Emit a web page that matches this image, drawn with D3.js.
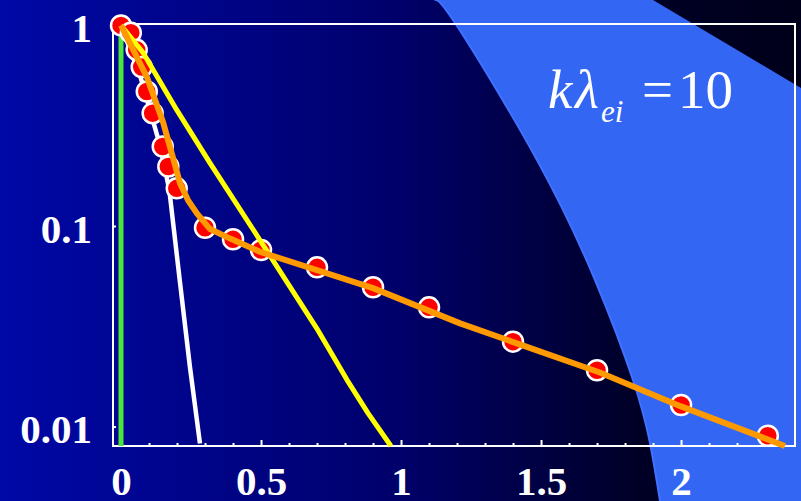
<!DOCTYPE html>
<html lang="en">
<head>
    <meta charset="UTF-8">
    <title>Decay curves, k lambda_ei = 10</title>
    <script src="https://d3js.org/d3.v7.min.js"></script>
    <style>
        html, body { margin: 0; padding: 0; background: #000020; }
        svg { display: block; }
        .tick text { font-family: "Liberation Serif", "Times New Roman", serif; font-weight: bold; fill: #fff; }
        .note { font-family: "Liberation Serif", "Times New Roman", serif; fill: #fff; }
        .note .it { font-style: italic; }
    </style>
</head>
<body>
    <div id="chart"></div>

    <script>
        // measured points (red circles)
        const markerX = [0, 0.035, 0.056, 0.074, 0.092, 0.113, 0.149, 0.169, 0.199, 0.3, 0.4, 0.5, 0.7, 0.9, 1.1, 1.4, 1.7, 2.0, 2.31];
        const markerY = [1.0, 0.92, 0.755, 0.62, 0.468, 0.365, 0.249, 0.198, 0.154, 0.098, 0.0859, 0.0759, 0.0622, 0.0495, 0.0393, 0.0265, 0.0191, 0.0128, 0.0090];

        // orange fit
        const orangeX = [0, 0.092, 0.15, 0.211, 0.239, 0.271, 0.318, 0.39, 0.5, 0.9, 1.211, 1.71, 2.0, 2.371];
        const orangeY = [1.0, 0.554, 0.33, 0.163, 0.1346, 0.1156, 0.0965, 0.0865, 0.074, 0.049, 0.0327, 0.0186, 0.0126, 0.0080];

        // yellow curve
        const yellowX = [0, 0.08, 0.199, 0.318, 0.496, 0.699, 0.807, 0.882, 0.964];
        const yellowY = [1.0, 0.727, 0.379, 0.2056, 0.0851, 0.0309, 0.0171, 0.01167, 0.0080];

        // white curve
        const whiteX = [0, 0.07, 0.14, 0.1725, 0.211, 0.246, 0.282];
        const whiteY = [1.0, 0.55, 0.25, 0.151, 0.0518, 0.0199, 0.00824];

        // green (vertical at zero)
        const greenX = [0, 0];
        const greenY = [1.0, 0.008];

        const xTickLabels = [0, 0.5, 1, 1.5, 2];
        const xMinorTicks = d3.range(1, 24).map(i => i / 10).filter(v => Math.round(v * 10) % 5 !== 0);
        const yTickLabels = [1, 0.1, 0.01];

        const W = 801, H = 501;
        const plotL = 113, plotR = 795, plotT = 24, plotB = 446;

        const svg = d3.select("#chart").append("svg")
            .attr("width", W)
            .attr("height", H);

        // slide background
        const defs = svg.append("defs");
        const bg = defs.append("linearGradient")
            .attr("id", "bg")
            .attr("x1", "0%").attr("y1", "0%")
            .attr("x2", "100%").attr("y2", "0%");
        bg.append("stop").attr("offset", "0%").attr("stop-color", "#0008a6");
        bg.append("stop").attr("offset", "50%").attr("stop-color", "#00006a");
        bg.append("stop").attr("offset", "80%").attr("stop-color", "#000026");
        bg.append("stop").attr("offset", "100%").attr("stop-color", "#00001a");

        svg.append("rect")
            .attr("width", W).attr("height", H)
            .attr("fill", "url(#bg)");

        // light blue swoosh on the right
        const swooshEdge = [[434, 0], [457, 26], [537, 160], [595, 280], [633, 380], [650, 443], [660, 501]];
        const edgePath = d3.line().curve(d3.curveNatural)(swooshEdge);
        svg.append("path")
            .attr("d", edgePath + "L801,501L801,88L653,0Z")
            .attr("fill", "#3466f4");
        svg.append("path")
            .attr("d", edgePath)
            .attr("fill", "none")
            .attr("stroke", "#3f72ff")
            .attr("stroke-width", 2);

        // scales
        const x = d3.scaleLinear()
            .domain([-0.0286, 2.407])
            .range([plotL, plotR]);
        const y = d3.scaleLog()
            .domain([0.0080, 1.016])
            .range([plotB, plotT]);

        // axes
        const xMinor = svg.append("g")
            .attr("transform", `translate(0,${plotB})`)
            .call(d3.axisBottom(x).tickValues(xMinorTicks).tickSize(-3).tickFormat(""));
        const xMajor = svg.append("g")
            .attr("transform", `translate(0,${plotB})`)
            .call(d3.axisBottom(x).tickValues(xTickLabels).tickSize(-6).tickPadding(20).tickFormat(d3.format("")));
        const yAxis = svg.append("g")
            .attr("transform", `translate(${plotL},0)`)
            .call(d3.axisLeft(y).tickValues(yTickLabels).tickSize(-3).tickPadding(21).tickFormat(d3.format("")));

        [xMinor, xMajor, yAxis].forEach(g => {
            g.select(".domain").remove();
            g.attr("font-size", null).attr("font-family", null);
            g.selectAll(".tick line").attr("stroke", "#fff").attr("stroke-width", 2);
            g.selectAll(".tick text").style("font-size", "41px");
        });
        yAxis.selectAll(".tick text").attr("dy", "0.4em");

        // frame
        svg.append("rect")
            .attr("x", plotL).attr("y", plotT)
            .attr("width", plotR - plotL).attr("height", plotB - plotT)
            .attr("fill", "none")
            .attr("stroke", "#fff")
            .attr("stroke-width", 2);

        const line = d3.line()
            .x(d => x(d[0]))
            .y(d => y(d[1]));

        function drawCurve(xs, ys, color, width) {
            svg.append("path")
                .datum(xs.map((v, i) => [v, ys[i]]))
                .attr("d", line)
                .attr("fill", "none")
                .attr("stroke", color)
                .attr("stroke-width", width)
                .attr("stroke-linejoin", "round");
        }

        drawCurve(greenX, greenY, "#4ce63a", 5);
        drawCurve(whiteX, whiteY, "#ffffff", 4.5);

        svg.append("g")
            .selectAll("circle")
            .data(markerX.map((v, i) => [v, markerY[i]]))
            .join("circle")
            .attr("cx", d => x(d[0]))
            .attr("cy", d => y(d[1]))
            .attr("r", 10)
            .attr("fill", "#ff0000")
            .attr("stroke", "#fff")
            .attr("stroke-width", 2.5);

        drawCurve(yellowX, yellowY, "#ffff00", 5);
        drawCurve(orangeX, orangeY, "#ff9900", 6);

        // annotation  k λ_ei = 10
        const label = svg.append("text")
            .attr("class", "note")
            .attr("y", 108)
            .style("font-size", "55px");
        label.append("tspan").attr("class", "it").attr("x", 548).text("k");
        label.append("tspan").attr("class", "it").attr("x", 575).text("λ");
        label.append("tspan").attr("class", "it").attr("x", 601).attr("dy", 14).style("font-size", "31px").text("ei");
        label.append("tspan").attr("x", 642).attr("dy", -14).text("=");
        label.append("tspan").attr("x", 678).text("10");
    </script>
</body>
</html>
